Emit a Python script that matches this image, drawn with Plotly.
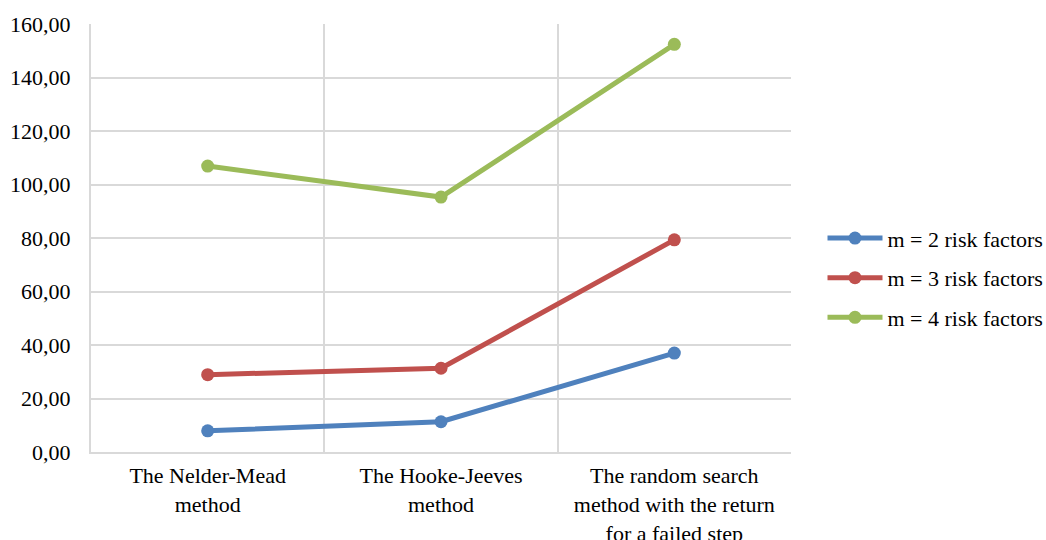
import plotly.graph_objects as go

categories = [
    "The Nelder-Mead<br>method",
    "The Hooke-Jeeves<br>method",
    "The random search<br>method with the return<br>for a failed step",
]
series_names = ["m = 2 risk factors", "m = 3 risk factors", "m = 4 risk factors"]
m2_values = [7.9, 11.3, 37.0]
m3_values = [28.9, 31.3, 79.3]
m4_values = [106.9, 95.3, 152.4]
colors = ["#4f81bd", "#c0504d", "#9bbb59"]
y_ticks = [0, 20, 40, 60, 80, 100, 120, 140, 160]

FONT = "'Liberation Serif', 'Times New Roman', serif"
positions = list(range(len(categories)))

fig = go.Figure()
for i, (name, vals, col) in enumerate(zip(series_names, [m2_values, m3_values, m4_values], colors)):
    fig.add_trace(go.Scatter(
        x=positions, y=vals, name=name, mode="lines+markers",
        line=dict(color=col, width=5),
        marker=dict(color=col, size=13),
        legendgroup=f"g{i}",
    ))

# invisible trace on a second x-axis to draw the category-boundary gridlines
fig.add_trace(go.Scatter(x=[-0.5, 2.5], y=[0, 0], xaxis="x2", mode="lines",
                         line=dict(width=0), showlegend=False, hoverinfo="skip"))

fig.update_layout(
    width=1046, height=540,
    margin=dict(l=91, r=255, t=24, b=88, autoexpand=False),
    paper_bgcolor="white", plot_bgcolor="white",
    separators=", ",
    font=dict(family=FONT, size=22, color="#000000"),
    xaxis=dict(
        range=[-0.5, 2.5], tickvals=positions, ticktext=categories,
        showgrid=False, zeroline=False, showline=True, linecolor="#d9d9d9", linewidth=2,
        ticks="", tickfont=dict(family=FONT, size=22), automargin=False,
        ticklabelstandoff=3,
    ),
    xaxis2=dict(
        range=[-0.5, 2.5], overlaying="x", tickvals=[-0.5, 0.5, 1.5, 2.5],
        showgrid=True, gridcolor="#d9d9d9", gridwidth=2,
        showticklabels=False, ticks="", zeroline=False, showline=False,
    ),
    yaxis=dict(
        range=[0, 160], tickvals=y_ticks, tickformat=".2f",
        showgrid=True, gridcolor="#d9d9d9", gridwidth=2,
        zeroline=False, showline=True, linecolor="#d9d9d9", linewidth=2,
        ticks="", ticklabelstandoff=14, tickfont=dict(family=FONT, size=22),
        automargin=False,
    ),
    legend=dict(
        x=1.045, y=0.407, xanchor="left", yanchor="middle",
        font=dict(family=FONT, size=22), itemwidth=55,
        tracegroupgap=8, bgcolor="rgba(0,0,0,0)",
    ),
    showlegend=True,
)

fig.write_html("out.html")
